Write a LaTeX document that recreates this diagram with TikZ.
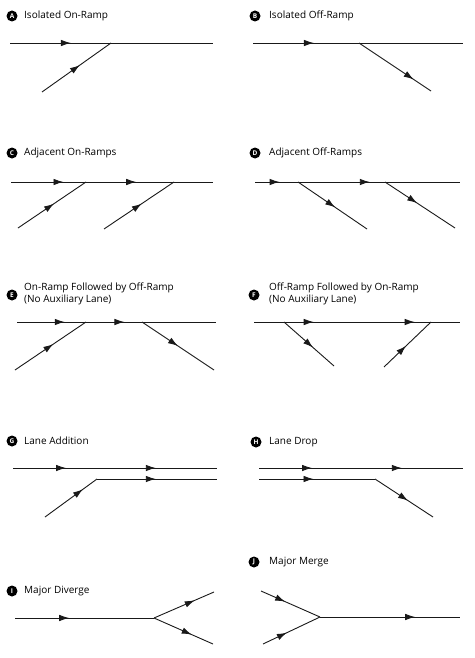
\documentclass[tikz,border=0pt]{standalone}
\usepackage{fontspec}
\setmainfont{Open Sans}
\usetikzlibrary{arrows.meta,decorations.markings,positioning}
\tikzset{
  road/.style={line width=0.9pt,draw=black!90},
  ar/.style={postaction={decorate,decoration={markings,
      mark=at position #1 with {\arrow{Latex[length=10pt,width=6.5pt]}}}}},
  tag/.style={circle,fill=black,text=white,inner sep=0pt,minimum size=11pt,
      font=\fontsize{6.5}{6.5}\selectfont\bfseries},
  title/.style={anchor=west,inner sep=0pt,align=left,
      font=\fontsize{10}{12}\selectfont},
}
\begin{document}
\begin{tikzpicture}[x=1pt,y=-1pt]
\useasboundingbox (0,0) rectangle (474,658);
%% A: isolated on-ramp
\node[tag] (tagA) at (12,16) {A};
\node[title] (ttlA) at (24,16) {Isolated On-Ramp};
\coordinate (a1) at (10,43);
\coordinate (a2) at (111,43);
\coordinate (a3) at (213,43);
\coordinate (a4) at (42,92);
\draw[road,ar=0.30] (a1) -- (a3);
\draw[road,ar=0.55] (a4) -- (a2);
%% B: isolated off-ramp
\node[tag] (tagB) at (255,16) {B};
\node[title] (ttlB) at (269,16) {Isolated Off-Ramp};
\coordinate (b1) at (253,43);
\coordinate (b2) at (359,43);
\coordinate (b3) at (463,43);
\coordinate (b4) at (431,91);
\draw[road,ar=0.29] (b1) -- (b3);
\draw[road,ar=0.76] (b2) -- (b4);
%% C: adjacent on-ramps
\node[tag] (tagC) at (12,153) {C};
\node[title] (ttlC) at (24,153) {Adjacent On-Ramps};
\coordinate (c1) at (11,182);
\coordinate (c2) at (86,182);
\coordinate (c3) at (174,182);
\coordinate (c4) at (213,182);
\coordinate (c5) at (18,228);
\coordinate (c6) at (104,229);
\draw[road,ar=0.26,ar=0.62] (c1) -- (c4);
\draw[road,ar=0.53] (c5) -- (c2);
\draw[road,ar=0.54] (c6) -- (c3);
%% D: adjacent off-ramps
\node[tag] (tagD) at (255,153) {D};
\node[title] (ttlD) at (269,153) {Adjacent Off-Ramps};
\coordinate (d1) at (255,182);
\coordinate (d2) at (298,182);
\coordinate (d3) at (385,182);
\coordinate (d4) at (460,182);
\coordinate (d5) at (367,229);
\coordinate (d6) at (455,228);
\draw[road,ar=0.12,ar=0.56] (d1) -- (d4);
\draw[road,ar=0.54] (d2) -- (d5);
\draw[road,ar=0.46] (d3) -- (d6);
%% E: on-ramp then off-ramp
\node[tag] (tagE) at (12,295) {E};
\node[title] (ttlE) at (24,294) {On-Ramp Followed by Off-Ramp\\(No Auxiliary Lane)};
\coordinate (e1) at (17,322);
\coordinate (e2) at (86,322);
\coordinate (e3) at (142,322);
\coordinate (e4) at (216,322);
\coordinate (e5) at (15,370);
\coordinate (e6) at (214,370);
\draw[road,ar=0.24,ar=0.54] (e1) -- (e4);
\draw[road,ar=0.54] (e5) -- (e2);
\draw[road,ar=0.50] (e3) -- (e6);
%% F: off-ramp then on-ramp
\node[tag] (tagF) at (254,295) {F};
\node[title] (ttlF) at (269,294) {Off-Ramp Followed by On-Ramp\\(No Auxiliary Lane)};
\coordinate (f1) at (254,322);
\coordinate (f2) at (284,322);
\coordinate (f3) at (431,322);
\coordinate (f4) at (460,322);
\coordinate (f5) at (334,366);
\coordinate (f6) at (384,367);
\draw[road,ar=0.29,ar=0.78] (f1) -- (f4);
\draw[road,ar=0.58] (f2) -- (f5);
\draw[road,ar=0.47] (f6) -- (f3);
%% G: lane addition
\node[tag] (tagG) at (12,441) {G};
\node[title] (ttlG) at (24,441) {Lane Addition};
\coordinate (g1) at (13,468);
\coordinate (g2) at (217,468);
\coordinate (g3) at (45,517);
\coordinate (g4) at (97,479);
\coordinate (g5) at (217,479);
\draw[road,ar=0.26,ar=0.70] (g1) -- (g2);
\draw[road,ar=0.73] (g3) -- (g4);
\draw[road,ar=0.49] (g4) -- (g5);
%% H: lane drop
\node[tag] (tagH) at (256,442) {H};
\node[title] (ttlH) at (269,442) {Lane Drop};
\coordinate (h1) at (259,468);
\coordinate (h2) at (463,468);
\coordinate (h3) at (259,479);
\coordinate (h4) at (375,479);
\coordinate (h5) at (433,517);
\draw[road,ar=0.26,ar=0.70] (h1) -- (h2);
\draw[road,ar=0.47] (h3) -- (h4);
\draw[road,ar=0.57] (h4) -- (h5);
%% I: major diverge
\node[tag] (tagI) at (12,591) {I};
\node[title] (ttlI) at (24,591) {Major Diverge};
\coordinate (i1) at (15,618);
\coordinate (i2) at (154,618);
\coordinate (i3) at (214,592);
\coordinate (i4) at (213,644);
\draw[road,ar=0.39] (i1) -- (i2);
\draw[road,ar=0.68] (i2) -- (i3);
\draw[road,ar=0.64] (i2) -- (i4);
%% J: major merge
\node[tag] (tagJ) at (254,562) {J};
\node[title] (ttlJ) at (269,562) {Major Merge};
\coordinate (j1) at (261,591);
\coordinate (j2) at (263,644);
\coordinate (j3) at (320,617);
\coordinate (j4) at (460,617);
\draw[road,ar=0.41] (j1) -- (j3);
\draw[road,ar=0.42] (j2) -- (j3);
\draw[road,ar=0.68] (j3) -- (j4);
\end{tikzpicture}
\end{document}
